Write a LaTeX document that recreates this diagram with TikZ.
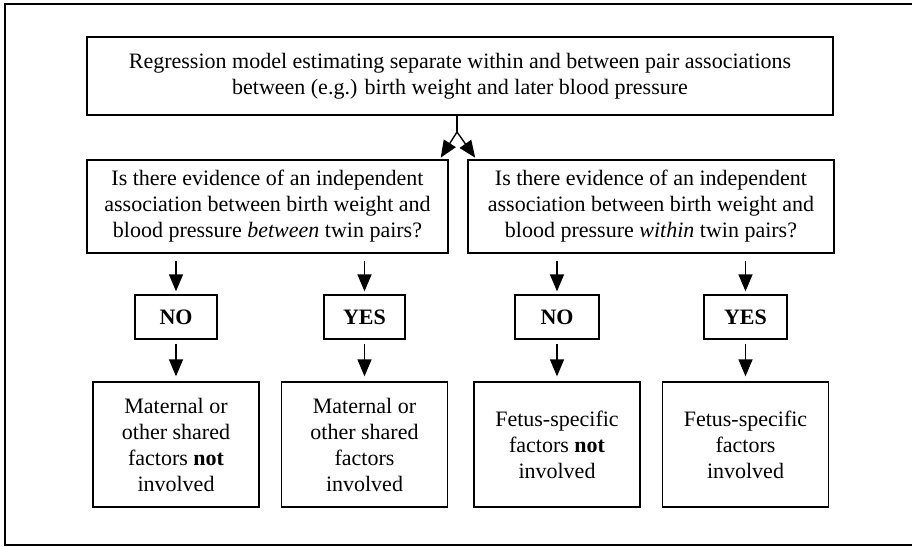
\documentclass[tikz,border=0pt]{standalone}
\usepackage{fontspec}
\setmainfont{Liberation Serif}
\usetikzlibrary{arrows.meta}

\begin{document}
\begin{tikzpicture}[x=1pt, y=-1pt,
  box/.style={draw, line width=1.3pt, align=center, inner sep=0pt,
    font=\fontsize{22}{26}\selectfont},
  answer/.style={box, minimum height=44pt, font=\fontsize{22}{26}\selectfont\bfseries},
  outcome/.style={box, minimum width=166pt, minimum height=125pt},
  link/.style={line width=1.4pt, -{Triangle[length=17pt, width=14pt]}}]
  \useasboundingbox (0,0) rectangle (912,546);

  % frame
  \draw[line width=1.5pt] (912,4) -- (5,4) -- (5,545) -- (912,545);

  % model
  \node[box, minimum width=746pt, minimum height=78pt] (model) at (460,76)
    {Regression model estimating separate within and between pair associations\\
     between (e.g.) birth weight and later blood pressure};

  % questions
\begin{scope}[minimum height=93pt]
  \node[box, minimum width=361pt] (between) at (267.5,206.5)
    {Is there evidence of an independent\\
     association between birth weight and\\
     blood pressure \textit{between} twin pairs?};
  \node[box, minimum width=366pt] (within) at (651,206.5)
    {Is there evidence of an independent\\
     association between birth weight and\\
     blood pressure \textit{within} twin pairs?};
\end{scope}

  % answers
  \node[answer, minimum width=82pt] (noB) at (176,317) {NO};
  \node[answer, minimum width=81pt] (yesB) at (364.5,317) {YES};
  \node[answer, minimum width=84pt] (noW) at (557,317) {NO};
  \node[answer, minimum width=83pt] (yesW) at (745.5,317) {YES};

  % conclusions
  \node[outcome] (sharedNot) at (176,444.5)
    {Maternal or\\ other shared\\ factors \textbf{not}\\ involved};
  \node[outcome] (shared) at (364.5,444.5)
    {Maternal or\\ other shared\\ factors\\ involved};
  \node[outcome] (fetusNot) at (557,444.5)
    {Fetus-specific\\ factors \textbf{not}\\ involved};
  \node[outcome] (fetus) at (745.5,444.5)
    {Fetus-specific\\ factors\\ involved};

  % split below the model
  \coordinate (split) at (457,132);
  \draw[line width=1.4pt] (split |- model.south) -- (split);
  \draw[link, shorten >=2pt] (split) -- ([xshift=-9pt]between.north east);
  \draw[link, shorten >=2pt] (split) -- ([xshift=9pt]within.north west);

  % question to answer
  \foreach \q/\a in {between/noB, between/yesB, within/noW, within/yesW}
    \draw[link, shorten <=7pt, shorten >=3pt] (\a.north |- \q.south) -- (\a.north);

  % answer to conclusion
  \foreach \a/\c in {noB/sharedNot, yesB/shared, noW/fetusNot, yesW/fetus}
    \draw[link, shorten <=4pt, shorten >=5pt] (\a.south) -- (\c.north);
\end{tikzpicture}
\end{document}
